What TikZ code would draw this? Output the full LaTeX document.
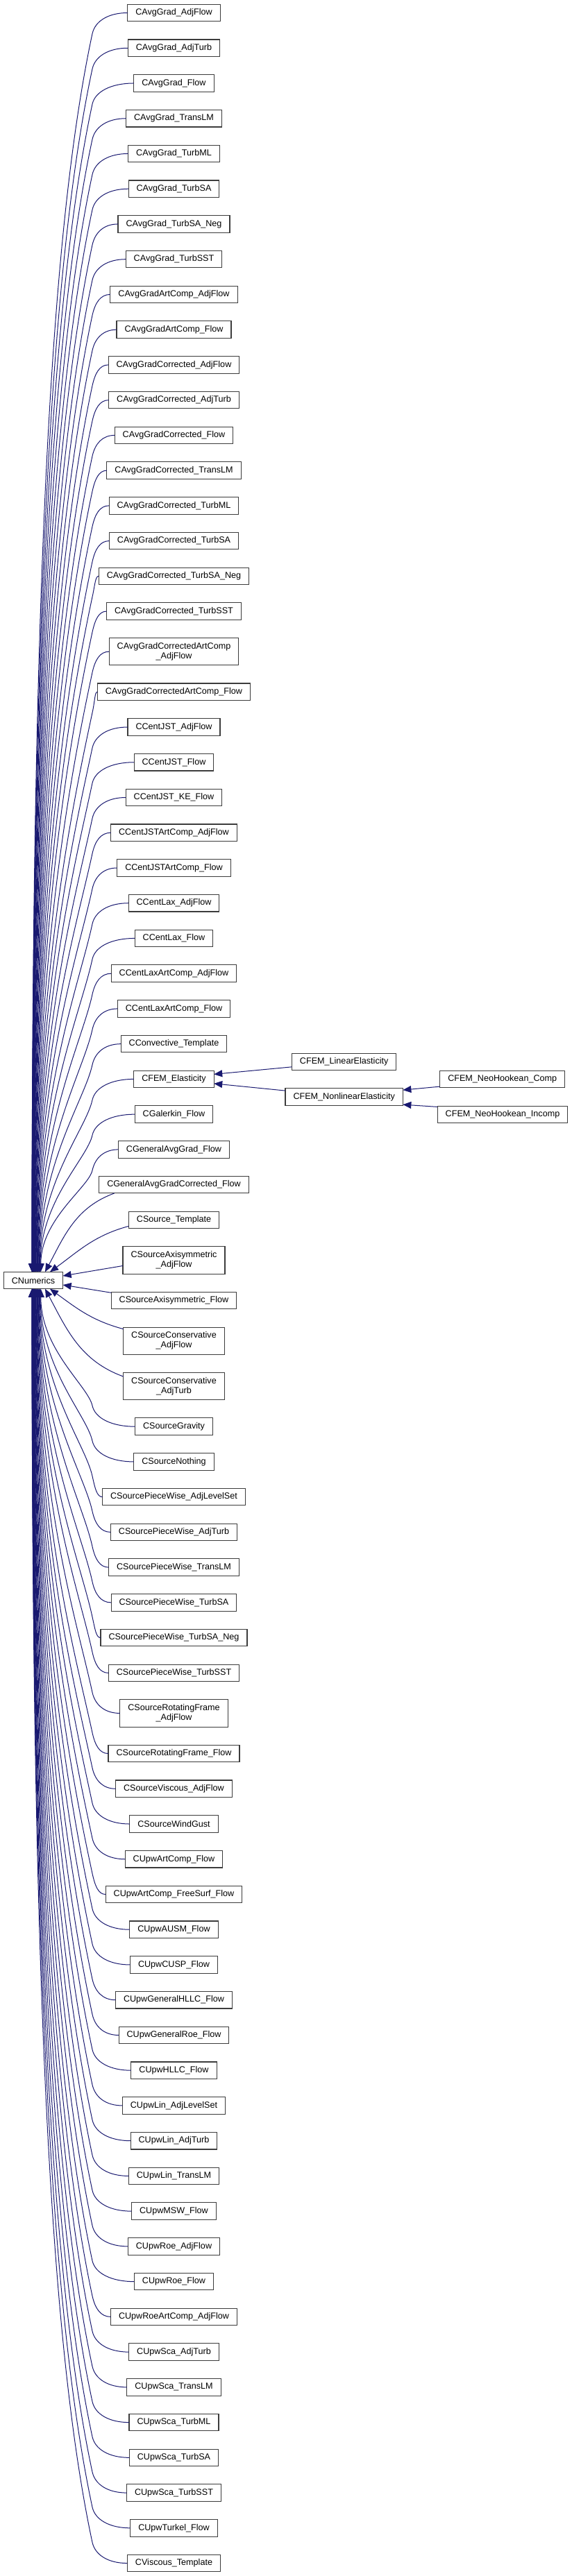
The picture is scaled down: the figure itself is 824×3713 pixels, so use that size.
\documentclass[tikz,border=0pt]{standalone}
\usepackage{fontspec}
\setmainfont{Liberation Sans}
\usepackage{tikz}
\usetikzlibrary{positioning,arrows.meta,calc}
\definecolor{edgeblue}{RGB}{25,25,112}
\definecolor{boxgray}{RGB}{60,60,60}

% edge from a child above CNumerics into its top side
\newcommand\inhup[2]{%
  \draw[inh] let \p1=(#1.west), \p2=([xshift=#2]num.north),
    \n1={0.55*(\x1-133pt)}, \n2={\y1-30pt-\y2} in
    (\p1) .. controls +(-\n1,0) and +(4,18) .. (133pt,\y1-30pt)
    .. controls +(-0.036*\n2,-0.168*\n2) and +(0,0.52*\n2) .. (\p2);}
% same for a child below CNumerics
\newcommand\inhdown[2]{%
  \draw[inh] let \p1=(#1.west), \p2=([xshift=#2]num.south),
    \n1={0.55*(\x1-133pt)}, \n2={\y2-\y1-30pt} in
    (\p1) .. controls +(-\n1,0) and +(4,-18) .. (133pt,\y1+30pt)
    .. controls +(-0.036*\n2,0.168*\n2) and +(0,-0.52*\n2) .. (\p2);}

\begin{document}
\begin{tikzpicture}[x=1pt,y=1pt,node distance=26.24pt,
    cls/.style={draw=boxgray,fill=white,line width=1.1pt,outer sep=0pt,
                inner xsep=11.5pt,inner ysep=2pt,minimum height=24.5pt,
                font=\fontsize{12.6pt}{14pt}\selectfont},
    cls2/.style={cls,minimum height=39.2pt,align=center},
    inh/.style={draw=edgeblue,line width=1pt,
                -{Triangle[length=12pt,width=10pt]}}]
  \useasboundingbox (0,0) rectangle (824,-3713);

  \node[cls] (num) at (48,-1845.5) {CNumerics};

  % derived classes, one column
  \node[cls] (c1) at (250.5,-18.5) {CAvgGrad\_AdjFlow};
  \node[cls,below=of c1] (c2) {CAvgGrad\_AdjTurb};
  \node[cls,below=of c2] (c3) {CAvgGrad\_Flow};
  \node[cls,below=of c3] (c4) {CAvgGrad\_TransLM};
  \node[cls,below=of c4] (c5) {CAvgGrad\_TurbML};
  \node[cls,below=of c5] (c6) {CAvgGrad\_TurbSA};
  \node[cls,below=of c6] (c7) {CAvgGrad\_TurbSA\_Neg};
  \node[cls,below=of c7] (c8) {CAvgGrad\_TurbSST};
  \node[cls,below=of c8] (c9) {CAvgGradArtComp\_AdjFlow};
  \node[cls,below=of c9] (c10) {CAvgGradArtComp\_Flow};
  \node[cls,below=of c10] (c11) {CAvgGradCorrected\_AdjFlow};
  \node[cls,below=of c11] (c12) {CAvgGradCorrected\_AdjTurb};
  \node[cls,below=of c12] (c13) {CAvgGradCorrected\_Flow};
  \node[cls,below=of c13] (c14) {CAvgGradCorrected\_TransLM};
  \node[cls,below=of c14] (c15) {CAvgGradCorrected\_TurbML};
  \node[cls,below=of c15] (c16) {CAvgGradCorrected\_TurbSA};
  \node[cls,below=of c16] (c17) {CAvgGradCorrected\_TurbSA\_Neg};
  \node[cls,below=of c17] (c18) {CAvgGradCorrected\_TurbSST};
  \node[cls2,below=of c18] (c19) {CAvgGradCorrectedArtComp\\\_AdjFlow};
  \node[cls,below=of c19] (c20) {CAvgGradCorrectedArtComp\_Flow};
  \node[cls,below=of c20] (c21) {CCentJST\_AdjFlow};
  \node[cls,below=of c21] (c22) {CCentJST\_Flow};
  \node[cls,below=of c22] (c23) {CCentJST\_KE\_Flow};
  \node[cls,below=of c23] (c24) {CCentJSTArtComp\_AdjFlow};
  \node[cls,below=of c24] (c25) {CCentJSTArtComp\_Flow};
  \node[cls,below=of c25] (c26) {CCentLax\_AdjFlow};
  \node[cls,below=of c26] (c27) {CCentLax\_Flow};
  \node[cls,below=of c27] (c28) {CCentLaxArtComp\_AdjFlow};
  \node[cls,below=of c28] (c29) {CCentLaxArtComp\_Flow};
  \node[cls,below=of c29] (c30) {CConvective\_Template};
  \node[cls,below=of c30] (c31) {CFEM\_Elasticity};
  \node[cls,below=of c31] (c32) {CGalerkin\_Flow};
  \node[cls,below=of c32] (c33) {CGeneralAvgGrad\_Flow};
  \node[cls,below=of c33] (c34) {CGeneralAvgGradCorrected\_Flow};
  \node[cls,below=of c34] (c35) {CSource\_Template};
  \node[cls2,below=of c35] (c36) {CSourceAxisymmetric\\\_AdjFlow};
  \node[cls,below=of c36] (c37) {CSourceAxisymmetric\_Flow};
  \node[cls2,below=of c37] (c38) {CSourceConservative\\\_AdjFlow};
  \node[cls2,below=of c38] (c39) {CSourceConservative\\\_AdjTurb};
  \node[cls,below=of c39] (c40) {CSourceGravity};
  \node[cls,below=of c40] (c41) {CSourceNothing};
  \node[cls,below=of c41] (c42) {CSourcePieceWise\_AdjLevelSet};
  \node[cls,below=of c42] (c43) {CSourcePieceWise\_AdjTurb};
  \node[cls,below=of c43] (c44) {CSourcePieceWise\_TransLM};
  \node[cls,below=of c44] (c45) {CSourcePieceWise\_TurbSA};
  \node[cls,below=of c45] (c46) {CSourcePieceWise\_TurbSA\_Neg};
  \node[cls,below=of c46] (c47) {CSourcePieceWise\_TurbSST};
  \node[cls2,below=of c47] (c48) {CSourceRotatingFrame\\\_AdjFlow};
  \node[cls,below=of c48] (c49) {CSourceRotatingFrame\_Flow};
  \node[cls,below=of c49] (c50) {CSourceViscous\_AdjFlow};
  \node[cls,below=of c50] (c51) {CSourceWindGust};
  \node[cls,below=of c51] (c52) {CUpwArtComp\_Flow};
  \node[cls,below=of c52] (c53) {CUpwArtComp\_FreeSurf\_Flow};
  \node[cls,below=of c53] (c54) {CUpwAUSM\_Flow};
  \node[cls,below=of c54] (c55) {CUpwCUSP\_Flow};
  \node[cls,below=of c55] (c56) {CUpwGeneralHLLC\_Flow};
  \node[cls,below=of c56] (c57) {CUpwGeneralRoe\_Flow};
  \node[cls,below=of c57] (c58) {CUpwHLLC\_Flow};
  \node[cls,below=of c58] (c59) {CUpwLin\_AdjLevelSet};
  \node[cls,below=of c59] (c60) {CUpwLin\_AdjTurb};
  \node[cls,below=of c60] (c61) {CUpwLin\_TransLM};
  \node[cls,below=of c61] (c62) {CUpwMSW\_Flow};
  \node[cls,below=of c62] (c63) {CUpwRoe\_AdjFlow};
  \node[cls,below=of c63] (c64) {CUpwRoe\_Flow};
  \node[cls,below=of c64] (c65) {CUpwRoeArtComp\_AdjFlow};
  \node[cls,below=of c65] (c66) {CUpwSca\_AdjTurb};
  \node[cls,below=of c66] (c67) {CUpwSca\_TransLM};
  \node[cls,below=of c67] (c68) {CUpwSca\_TurbML};
  \node[cls,below=of c68] (c69) {CUpwSca\_TurbSA};
  \node[cls,below=of c69] (c70) {CUpwSca\_TurbSST};
  \node[cls,below=of c70] (c71) {CUpwTurkel\_Flow};
  \node[cls,below=of c71] (c72) {CViscous\_Template};

  % FEM branch
  \node[cls] (lin) at ($(c31)+(245.2,25.1)$) {CFEM\_LinearElasticity};
  \node[cls] (nonlin) at ($(c31)+(245.2,-25.5)$) {CFEM\_NonlinearElasticity};
  \node[cls] (comp) at ($(nonlin)+(228,25.5)$) {CFEM\_NeoHookean\_Comp};
  \node[cls] (incomp) at ($(nonlin)+(228.3,-25.4)$) {CFEM\_NeoHookean\_Incomp};

  % inheritance edges
  \foreach \i in {1,...,33} {
    \pgfmathsetmacro\sh{-2+12*(\i/32)^2}
    \inhup{c\i}{\sh}
  }
  \draw[inh] ([xshift=22]c34.south west) to[out=200,in=62] ([xshift=17]num.north);
  \draw[inh] ([yshift=-9]c35.west) to[out=195,in=36] ([xshift=24]num.north);
  \draw[inh] ([yshift=-8]c36.west) -- ([yshift=6.5]num.east);
  \draw[inh] ([yshift=-1]c37.north west) -- ([yshift=-6.5]num.east);
  \draw[inh] ([yshift=17]c38.west) to[out=165,in=-36] ([xshift=24]num.south);
  \draw[inh] ([yshift=14]c39.west) to[out=160,in=-62] ([xshift=17]num.south);
  \foreach \i in {40,...,72} {
    \pgfmathsetmacro\sh{-2+12*((73-\i)/32)^2}
    \inhdown{c\i}{\sh}
  }

  \draw[inh] ([yshift=-7.5]lin.west) -- ([yshift=7]c31.east);
  \draw[inh] ([yshift=8.8]nonlin.west) -- ([yshift=-6.4]c31.east);
  \draw[inh] ([yshift=-10.7]comp.west) -- ([yshift=9.8]nonlin.east);
  \draw[inh] ([yshift=10.9]incomp.west) -- ([yshift=-11.2]nonlin.east);
\end{tikzpicture}
\end{document}
